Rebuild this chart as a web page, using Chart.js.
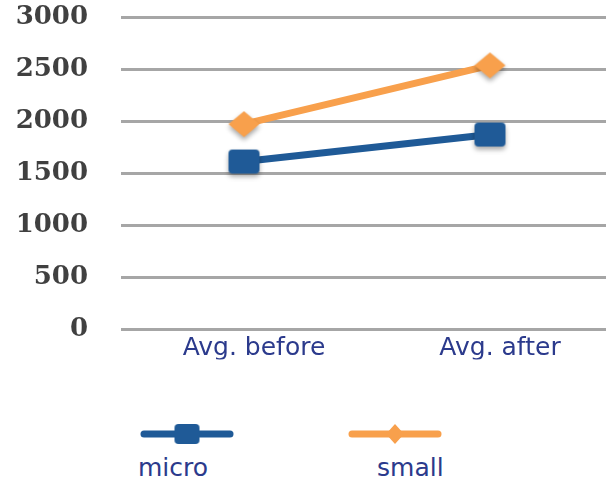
<!DOCTYPE html>
<html>
<head>
<meta charset="utf-8">
<script src="https://cdn.jsdelivr.net/npm/chart.js@4/dist/chart.umd.min.js"></script>
<style>
  html, body { margin: 0; padding: 0; background: #fff; }
  body { width: 606px; height: 480px; overflow: hidden; position: relative; }
  #chart { position: absolute; left: 0; top: -31px; }
  .legend-item { position: absolute; top: 420px; width: 110px; }
  .legend-item canvas { display: block; }
  .legend-item span { display: block; font: 25px "DejaVu Sans", sans-serif; color: #2b3a8c; margin-top: 3px; }
</style>
</head>
<body>
<canvas id="chart" width="624" height="409"></canvas>
<div class="legend-item" id="leg0" style="left:138px"></div>
<div class="legend-item" id="leg1" style="left:346px"></div>
<script>
// categories + series
const categories = ["Avg. before", "Avg. after"];
const micro = [1615, 1875];
const small = [1975, 2540];
const yTicks = [0, 500, 1000, 1500, 2000, 2500, 3000];

const BLUE = '#1f5a97';
const ORANGE = '#f8a04c';
const TEXT_BLUE = '#2b3a8c';

// marker images with a soft drop shadow, like the original
function makeMarker(kind, color, w, h, shadow) {
    const pad = 8;
    const c = document.createElement('canvas');
    c.width = w + pad * 2;
    c.height = h + pad * 2;
    const g = c.getContext('2d');
    if (shadow) {
        g.shadowColor = 'rgba(0,0,0,0.35)';
        g.shadowBlur = 5;
        g.shadowOffsetY = 3;
    }
    g.fillStyle = color;
    g.beginPath();
    if (kind === 'square') {
        g.roundRect(pad, pad, w, h, 4);
    } else {
        g.moveTo(pad + w / 2, pad);
        g.lineTo(pad + w, pad + h / 2);
        g.lineTo(pad + w / 2, pad + h);
        g.lineTo(pad, pad + h / 2);
        g.closePath();
    }
    g.fill();
    return c;
}

const blueMark = makeMarker('square', BLUE, 31, 24, true);
const orangeMark = makeMarker('diamond', ORANGE, 31, 26, true);

const ctx = document.getElementById('chart').getContext('2d');
const chart = new Chart(ctx, {
    type: 'line',
    data: {
        labels: categories,
        datasets: [
            {
                label: 'micro',
                data: micro,
                borderColor: BLUE,
                backgroundColor: BLUE,
                borderWidth: 7,
                pointStyle: blueMark,
                tension: 0,
            },
            {
                label: 'small',
                data: small,
                borderColor: ORANGE,
                backgroundColor: ORANGE,
                borderWidth: 7,
                pointStyle: orangeMark,
                tension: 0,
            }
        ]
    },
    options: {
        responsive: false,
        animation: false,
        layout: { padding: { top: 3, left: 0, right: 0, bottom: 0 } },
        plugins: {
            legend: { display: false },
            tooltip: { enabled: false },
        },
        scales: {
            x: {
                offset: true,
                grid: { display: false },
                border: { display: false },
                ticks: {
                    color: TEXT_BLUE,
                    font: { family: 'DejaVu Sans', size: 25 },
                    padding: -4,
                    labelOffset: 10,
                    maxRotation: 0,
                    autoSkip: false,
                },
            },
            y: {
                min: 0,
                max: 3000,
                afterBuildTicks: (scale) => { scale.ticks = yTicks.map(v => ({ value: v })); },
                afterFit: (scale) => { scale.width = 121; },
                border: { display: false },
                grid: { color: '#a6a6a6', lineWidth: 3, drawTicks: false },
                ticks: {
                    color: '#404040',
                    font: { family: 'DejaVu Serif', size: 26, weight: 'bold' },
                    padding: 33,
                    callback: (v) => String(v),
                },
            },
        },
    },
});

// legend below the plot: line sample above the name
[[BLUE, 'square', 'micro'], [ORANGE, 'diamond', 'small']].forEach(([color, kind, name], i) => {
    const box = document.getElementById('leg' + i);
    const c = document.createElement('canvas');
    c.width = 100; c.height = 30;
    const g = c.getContext('2d');
    g.strokeStyle = color;
    g.lineWidth = 7;
    g.lineCap = 'round';
    g.beginPath();
    g.moveTo(6, 14);
    g.lineTo(92, 14);
    g.stroke();
    const m = kind === 'square'
        ? makeMarker('square', color, 25, 20, false)
        : makeMarker('diamond', color, 18, 20, false);
    g.drawImage(m, 49 - m.width / 2, 14 - m.height / 2);
    box.appendChild(c);
    const s = document.createElement('span');
    s.textContent = name;
    if (i === 1) s.style.marginLeft = '31px';
    box.appendChild(s);
});
</script>
</body>
</html>
